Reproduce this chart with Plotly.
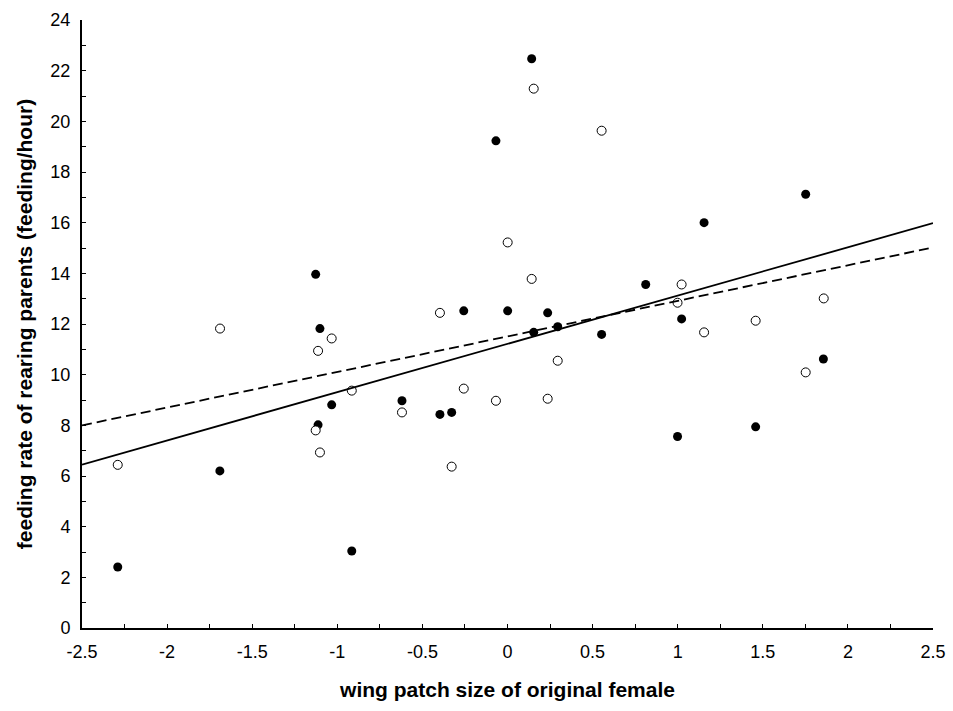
import plotly.graph_objects as go

# filled circles
filled_x = [-2.29, -1.69, -1.127, -1.102, -1.113, -1.033, -0.915, -0.620, -0.397, -0.328,
            -0.257, 0.001, -0.068, 0.142, 0.236, 0.295, 0.154, 0.553, 0.812, 1.023,
            1.155, 1.752, 0.999, 1.458, 1.856]
filled_y = [2.41, 6.20, 13.96, 11.82, 8.02, 8.81, 3.04, 8.97, 8.43, 8.51,
            12.52, 12.52, 19.23, 22.47, 12.44, 11.89, 11.67, 11.59, 13.56, 12.20,
            16.00, 17.12, 7.56, 7.94, 10.62]

# open circles
open_x = [-2.29, -1.689, -1.113, -1.033, -1.127, -1.102, -0.915, -0.620, -0.397, -0.328,
          -0.257, -0.068, 0.001, 0.142, 0.154, 0.236, 0.295, 0.553, 0.999, 1.023,
          1.155, 1.458, 1.858, 1.752]
open_y = [6.44, 11.82, 10.94, 11.43, 7.80, 6.93, 9.37, 8.51, 12.44, 6.37,
          9.45, 8.97, 15.22, 13.78, 21.29, 9.05, 10.55, 19.63, 12.84, 13.56,
          11.67, 12.13, 13.01, 10.09]

# regression lines (endpoints)
fit_x = [-2.5, 2.5]
solid_y = [6.45, 15.98]
dashed_y = [8.0, 15.02]

x_ticks = [-2.5, -2, -1.5, -1, -0.5, 0, 0.5, 1, 1.5, 2, 2.5]
x_tick_text = ["-2.5", "-2", "-1.5", "-1", "-0.5", "0", "0.5", "1", "1.5", "2", "2.5"]
y_ticks = list(range(0, 25, 2))

FONT = "Liberation Sans, Arial, sans-serif"

fig = go.Figure()
fig.add_trace(go.Scatter(x=filled_x, y=filled_y, mode="markers",
                         marker=dict(symbol="circle", size=9, color="black",
                                     line=dict(width=0)),
                         showlegend=False, hoverinfo="x+y"))
fig.add_trace(go.Scatter(x=open_x, y=open_y, mode="markers",
                         marker=dict(symbol="circle", size=9, color="white",
                                     line=dict(width=1, color="black")),
                         showlegend=False, hoverinfo="x+y"))
fig.add_trace(go.Scatter(x=fit_x, y=solid_y, mode="lines",
                         line=dict(color="black", width=1.8),
                         showlegend=False, hoverinfo="skip"))
fig.add_trace(go.Scatter(x=fit_x, y=dashed_y, mode="lines",
                         line=dict(color="black", width=1.8, dash="10px,5px"),
                         showlegend=False, hoverinfo="skip"))

fig.update_layout(
    width=953, height=711,
    margin=dict(l=82, r=20, t=20, b=83),
    plot_bgcolor="white", paper_bgcolor="white",
    font=dict(family=FONT, color="black", size=18),
    xaxis=dict(
        range=[-2.5, 2.5], tickvals=x_ticks, ticktext=x_tick_text,
        showgrid=False, zeroline=False, showline=True, linecolor="black", linewidth=2,
        ticks="inside", ticklen=4, tickwidth=1, tickcolor="black",
        minor=dict(dtick=0.25, ticks="inside", ticklen=4, tickwidth=1, tickcolor="black", showgrid=False),
        tickfont=dict(size=18, family=FONT), ticklabelstandoff=6,
        automargin=False,
        title=dict(text="<b>wing patch size of original female</b>",
                   font=dict(size=21, family=FONT), standoff=22),
    ),
    yaxis=dict(
        range=[0, 24], tickvals=y_ticks,
        showgrid=False, zeroline=False, showline=True, linecolor="black", linewidth=2,
        ticks="inside", ticklen=4, tickwidth=1, tickcolor="black",
        minor=dict(dtick=1, ticks="inside", ticklen=4, tickwidth=1, tickcolor="black", showgrid=False),
        tickfont=dict(size=18, family=FONT), ticklabelstandoff=6,
        automargin=False,
        title=dict(text="<b>feeding rate of rearing parents (feeding/hour)</b>",
                   font=dict(size=21, family=FONT), standoff=12),
    ),
)

fig.write_html(
    "out.html",
    config={"displayModeBar": False},
    post_script="document.body.style.margin='0';document.body.style.overflow='hidden';",
)
